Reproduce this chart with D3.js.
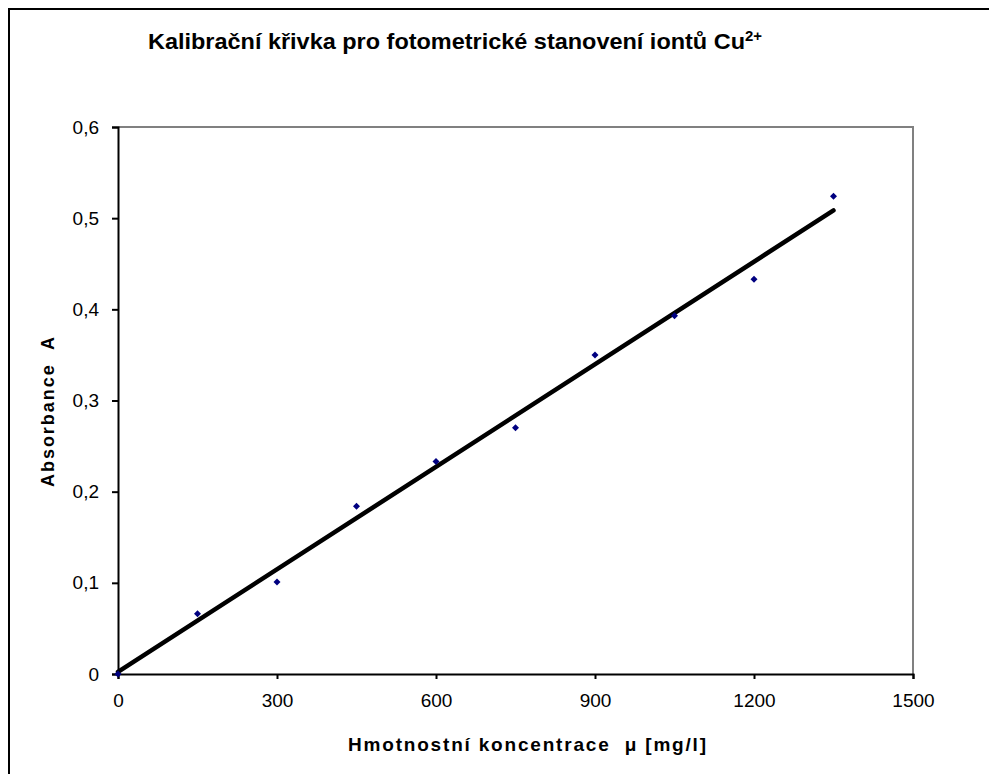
<!DOCTYPE html>
<html>
<head>
<meta charset="utf-8">
<script src="https://cdn.jsdelivr.net/npm/d3@7"></script>
<style>
    body { margin: 0; background: #fff; }
    svg { display: block; font-family: "Liberation Sans", Arial, sans-serif; }
</style>
</head>
<body>
<div id="chart"></div>
<script>
const concentrations = [0, 150, 300, 450, 600, 750, 900, 1050, 1200, 1350];
const absorbances = [0, 0.066, 0.101, 0.184, 0.233, 0.270, 0.350, 0.393, 0.433, 0.524];
const xTicks = [0, 300, 600, 900, 1200, 1500];
const yTicks = [0, 0.1, 0.2, 0.3, 0.4, 0.5, 0.6];

const svgWidth = 989;
const svgHeight = 774;
const plotLeft = 118;
const plotRight = 913;
const plotTop = 127;
const plotBottom = 674;

const svg = d3.select('#chart')
    .append('svg')
    .attr('width', svgWidth)
    .attr('height', svgHeight);

// outer chart border (runs off the right and bottom edges)
svg.append('rect')
    .attr('x', 9)
    .attr('y', 9)
    .attr('width', svgWidth + 20)
    .attr('height', svgHeight + 20)
    .attr('fill', 'white')
    .attr('stroke', 'black')
    .attr('stroke-width', 2);

const x = d3.scaleLinear().domain([0, 1500]).range([plotLeft, plotRight]);
const y = d3.scaleLinear().domain([0, 0.6]).range([plotBottom, plotTop]);

// top and right of the plot area
svg.append('path')
    .attr('d', `M ${plotLeft} ${plotTop} H ${plotRight} V ${plotBottom}`)
    .attr('fill', 'none')
    .attr('stroke', '#808080')
    .attr('stroke-width', 2);

const commaFormat = d => d === 0 ? '0' : d3.format('.1f')(d).replace('.', ',');

const yAxis = svg.append('g')
    .attr('transform', `translate(${plotLeft}, 0)`)
    .call(d3.axisLeft(y).tickValues(yTicks).tickFormat(commaFormat).tickSize(6).tickPadding(13));

const xAxis = svg.append('g')
    .attr('transform', `translate(0, ${plotBottom})`)
    .call(d3.axisBottom(x).tickValues(xTicks).tickFormat(d3.format('d')).tickSize(5).tickPadding(15));

[xAxis, yAxis].forEach(axis => {
    axis.selectAll('path, line').attr('stroke', 'black').attr('stroke-width', 2);
    axis.selectAll('text')
        .attr('fill', 'black')
        .attr('font-size', 19)
        .attr('font-family', '"Liberation Sans", Arial, sans-serif');
});

// least squares trend line, from the data
const meanX = d3.mean(concentrations);
const meanY = d3.mean(absorbances);
const sxy = d3.sum(concentrations, (c, i) => (c - meanX) * (absorbances[i] - meanY));
const sxx = d3.sum(concentrations, c => (c - meanX) ** 2);
const slope = sxy / sxx;
const intercept = meanY - slope * meanX;
const xEnds = d3.extent(concentrations);

svg.append('path')
    .datum(xEnds)
    .attr('d', d3.line().x(d => x(d)).y(d => y(intercept + slope * d)))
    .attr('stroke', 'black')
    .attr('stroke-width', 4.5)
    .attr('stroke-linecap', 'round')
    .attr('fill', 'none');

svg.append('g')
    .selectAll('path')
    .data(concentrations)
    .join('path')
    .attr('transform', (d, i) => `translate(${x(d)}, ${y(absorbances[i])})`)
    .attr('d', 'M 0 -3.5 L 3.5 0 L 0 3.5 L -3.5 0 Z')
    .attr('fill', '#000080');

// title
const title = svg.append('text')
    .attr('x', 455)
    .attr('y', 49)
    .attr('text-anchor', 'middle')
    .attr('font-size', 22)
    .attr('font-weight', 'bold')
    .attr('textLength', 614)
    .attr('lengthAdjust', 'spacingAndGlyphs');
title.append('tspan').text('Kalibrační křivka pro fotometrické stanovení iontů Cu');
title.append('tspan')
    .attr('font-size', 14)
    .attr('dy', -8)
    .text('2+');

svg.append('text')
    .attr('transform', `translate(54, 412) rotate(-90)`)
    .attr('text-anchor', 'middle')
    .attr('font-size', 18)
    .attr('font-weight', 'bold')
    .attr('xml:space', 'preserve')
    .attr('textLength', 150)
    .attr('lengthAdjust', 'spacing')
    .text('Absorbance  A');

svg.append('text')
    .attr('x', 527)
    .attr('y', 751)
    .attr('text-anchor', 'middle')
    .attr('font-size', 19)
    .attr('font-weight', 'bold')
    .attr('xml:space', 'preserve')
    .attr('textLength', 358)
    .attr('lengthAdjust', 'spacing')
    .text('Hmotnostní koncentrace  μ [mg/l]');
</script>
</body>
</html>
